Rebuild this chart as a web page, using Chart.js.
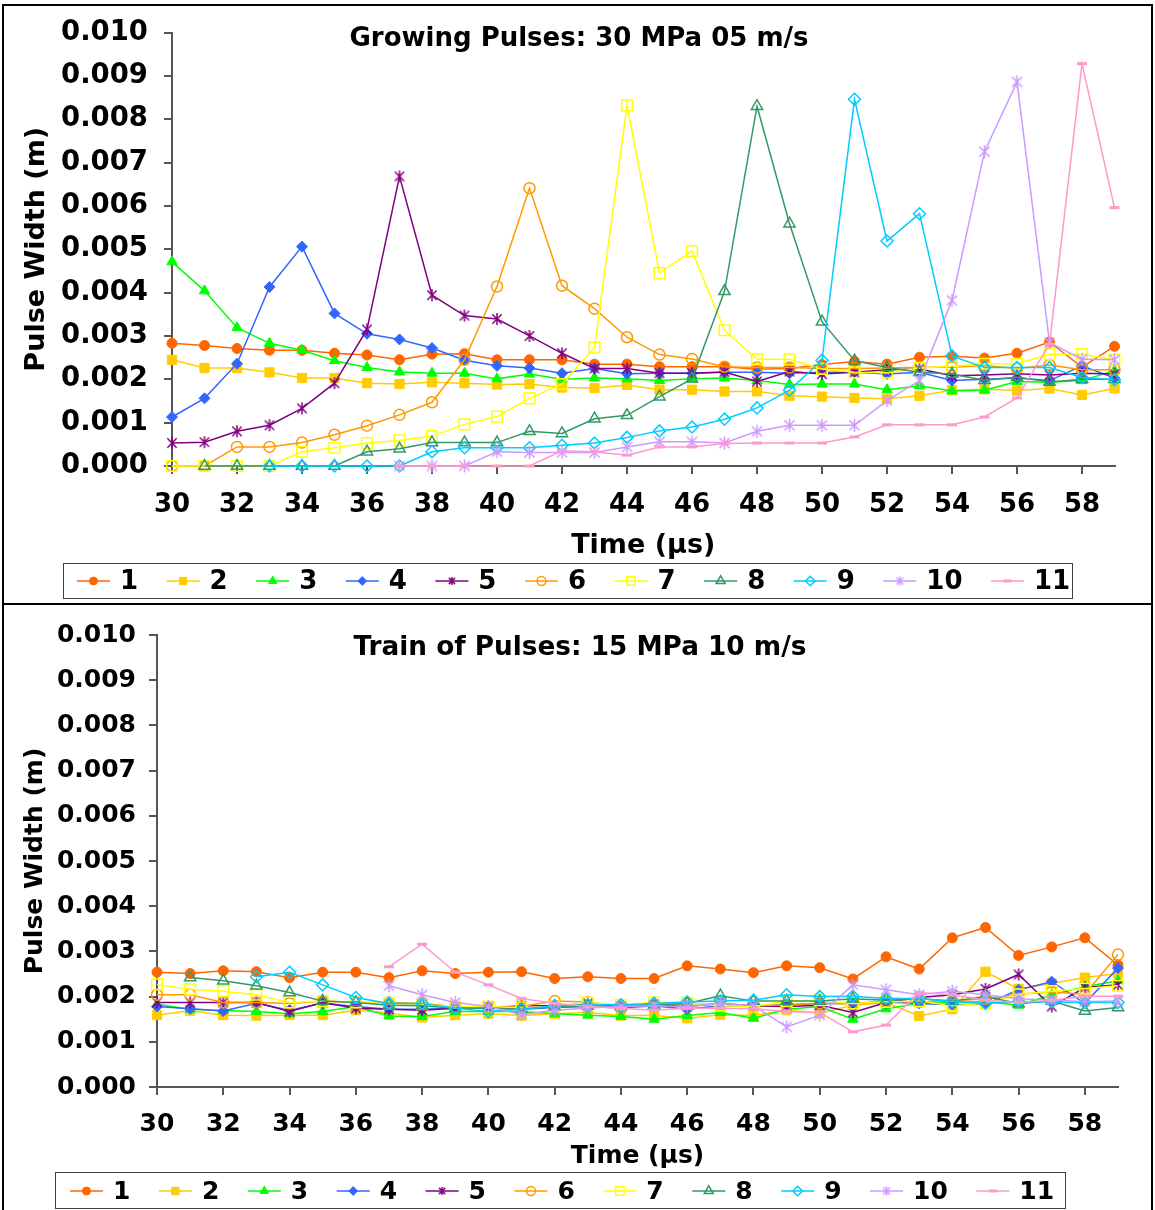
<!DOCTYPE html>
<html>
<head>
<meta charset="utf-8">
<script src="https://cdn.jsdelivr.net/npm/chart.js@4.4.1/dist/chart.umd.min.js"></script>
<style>
  html, body { margin: 0; padding: 0; background: #fff; }
  #page { position: relative; width: 1155px; height: 1210px; overflow: hidden; }
  .frame { position: absolute; border: 2px solid #000; box-sizing: border-box; }
  canvas { position: absolute; left: 0; }
</style>
</head>
<body>
<div id="page">
  <div class="frame" style="left:2px;top:4px;width:1151px;height:601px"></div>
  <div class="frame" style="left:2px;top:603px;width:1151px;height:620px"></div>
  <canvas id="growing" width="1155" height="605" style="top:0"></canvas>
  <canvas id="train" width="1155" height="605" style="top:605px"></canvas>
</div>
<script>
// Time axis (µs)
const times = [30, 31, 32, 33, 34, 35, 36, 37, 38, 39,
               40, 41, 42, 43, 44, 45, 46, 47, 48, 49,
               50, 51, 52, 53, 54, 55, 56, 57, 58, 59];
const xTickStep = 2;
const yTickStep = 0.001;
const yMax = 0.010;

// Pulse widths in millimetres, one value per time step (null = pulse not yet present)
// Growing Pulses: 30 MPa 05 m/s
const gp1  = [2.83, 2.78, 2.71, 2.67, 2.67, 2.60, 2.56, 2.45, 2.58, 2.59, 2.45, 2.45, 2.45, 2.35, 2.35, 2.29, 2.29, 2.29, 2.23, 2.25, 2.34, 2.41, 2.35, 2.51, 2.53, 2.49, 2.60, 2.86, 2.28, 2.76];
const gp2  = [2.45, 2.26, 2.26, 2.16, 2.03, 2.03, 1.91, 1.89, 1.93, 1.91, 1.88, 1.89, 1.81, 1.80, 1.87, 1.76, 1.76, 1.72, 1.72, 1.62, 1.60, 1.57, 1.55, 1.62, 1.75, 1.77, 1.74, 1.79, 1.64, 1.79];
const gp3  = [4.71, 4.04, 3.19, 2.83, 2.67, 2.43, 2.27, 2.17, 2.14, 2.14, 2.01, 2.12, 2.00, 2.03, 2.01, 1.97, 2.01, 2.03, 1.97, 1.88, 1.89, 1.89, 1.76, 1.85, 1.73, 1.75, 1.95, 1.93, 1.97, 2.20];
const gp4  = [1.13, 1.56, 2.36, 4.13, 5.06, 3.52, 3.05, 2.92, 2.72, 2.44, 2.31, 2.26, 2.14, 2.25, 2.13, 2.14, 2.14, 2.16, 2.16, 2.14, 2.16, 2.16, 2.12, 2.16, 1.97, 2.00, 2.03, 1.97, 2.31, 2.03];
const gp5  = [0.53, 0.55, 0.80, 0.94, 1.33, 1.91, 3.15, 6.68, 3.94, 3.47, 3.39, 3.00, 2.60, 2.25, 2.25, 2.14, 2.14, 2.17, 1.95, 2.18, 2.12, 2.16, 2.22, 2.24, 2.08, 2.10, 2.13, 2.10, 2.14, 2.12];
const gp6  = [0.00, 0.00, 0.44, 0.44, 0.54, 0.72, 0.93, 1.18, 1.47, 2.45, 4.14, 6.41, 4.16, 3.63, 2.97, 2.57, 2.47, 2.29, 2.27, 2.27, 2.25, 2.25, 2.26, 2.28, 2.28, 2.32, 2.25, 2.33, 2.22, 2.22];
const gp7  = [0.00, 0.00, 0.00, 0.00, 0.33, 0.42, 0.53, 0.59, 0.69, 0.96, 1.14, 1.56, 1.89, 2.73, 8.32, 4.45, 4.96, 3.13, 2.46, 2.46, 2.24, 2.16, 2.15, 2.26, 2.30, 2.36, 2.36, 2.58, 2.58, 2.45];
const gp8  = [null, 0.00, 0.00, 0.00, 0.00, 0.00, 0.33, 0.40, 0.54, 0.54, 0.54, 0.80, 0.75, 1.09, 1.17, 1.60, 2.01, 4.03, 8.30, 5.59, 3.33, 2.43, 2.27, 2.16, 2.12, 1.98, 2.05, 1.94, 2.00, 2.00];
const gp9  = [null, null, null, 0.00, 0.00, 0.00, 0.00, 0.00, 0.33, 0.42, 0.42, 0.42, 0.48, 0.53, 0.66, 0.81, 0.90, 1.08, 1.34, 1.75, 2.44, 8.46, 5.19, 5.82, 2.54, 2.27, 2.27, 2.27, 2.04, 1.99];
const gp10 = [null, null, null, null, null, null, null, 0.00, 0.00, 0.00, 0.33, 0.31, 0.31, 0.31, 0.44, 0.56, 0.56, 0.53, 0.80, 0.94, 0.94, 0.94, 1.51, 1.97, 3.82, 7.25, 8.86, 2.85, 2.46, 2.45];
const gp11 = [null, null, null, null, null, null, null, 0.00, 0.00, 0.00, 0.00, 0.00, 0.35, 0.33, 0.25, 0.44, 0.44, 0.52, 0.53, 0.53, 0.53, 0.67, 0.95, 0.95, 0.95, 1.13, 1.57, 2.81, 9.28, 5.96];

// Train of Pulses: 15 MPa 10 m/s
const tp1  = [2.54, 2.51, 2.57, 2.55, 2.42, 2.54, 2.54, 2.42, 2.57, 2.51, 2.54, 2.55, 2.40, 2.44, 2.40, 2.40, 2.68, 2.61, 2.53, 2.68, 2.64, 2.39, 2.88, 2.61, 3.30, 3.53, 2.91, 3.10, 3.30, 2.70];
const tp2  = [1.59, 1.69, 1.59, 1.58, 1.59, 1.59, 1.70, 1.64, 1.54, 1.59, 1.62, 1.58, 1.62, 1.65, 1.58, 1.58, 1.52, 1.60, 1.58, 1.70, 1.63, 1.81, 1.87, 1.57, 1.72, 2.55, 2.17, 2.29, 2.42, 2.51];
const tp3  = [1.83, 1.72, 1.69, 1.67, 1.62, 1.67, 1.78, 1.57, 1.56, 1.67, 1.67, 1.67, 1.62, 1.59, 1.56, 1.50, 1.58, 1.65, 1.52, 1.72, 1.78, 1.50, 1.73, 1.85, 1.87, 1.89, 1.81, 2.04, 2.22, 2.35];
const tp4  = [1.78, 1.73, 1.68, 1.85, 1.70, 1.85, 1.78, 1.72, 1.72, 1.74, 1.75, 1.72, 1.76, 1.78, 1.75, 1.80, 1.72, 1.80, 1.78, 1.82, 1.85, 1.85, 1.88, 1.85, 1.82, 1.83, 2.15, 2.33, 1.85, 2.63];
const tp5  = [1.87, 1.87, 1.87, 1.87, 1.67, 1.87, 1.74, 1.72, 1.70, 1.74, 1.75, 1.80, 1.80, 1.85, 1.78, 1.82, 1.78, 1.85, 1.80, 1.78, 1.81, 1.65, 1.87, 1.98, 2.04, 2.17, 2.49, 1.78, 2.20, 2.26];
const tp6  = [2.04, 2.04, 1.87, 1.87, 1.85, 1.90, 1.87, 1.87, 1.85, 1.78, 1.75, 1.78, 1.90, 1.88, 1.80, 1.82, 1.85, 1.82, 1.80, 1.82, 1.85, 1.85, 1.90, 1.88, 1.90, 1.95, 2.05, 2.10, 2.05, 2.93];
const tp7  = [2.27, 2.16, 2.12, 2.04, 1.87, 1.90, 1.87, 1.85, 1.83, 1.78, 1.78, 1.75, 1.78, 1.87, 1.82, 1.87, 1.87, 1.80, 1.78, 1.90, 1.92, 1.85, 1.88, 1.90, 1.80, 1.85, 2.05, 2.12, 2.18, 2.24];
const tp8  = [null, 2.42, 2.35, 2.24, 2.09, 1.90, 1.87, 1.81, 1.80, 1.74, 1.75, 1.72, 1.78, 1.80, 1.78, 1.82, 1.85, 2.02, 1.90, 1.90, 1.90, 1.95, 1.92, 1.95, 1.90, 2.00, 1.85, 1.90, 1.68, 1.76];
const tp9  = [null, null, null, 2.44, 2.54, 2.26, 1.98, 1.85, 1.85, 1.74, 1.67, 1.72, 1.80, 1.82, 1.82, 1.85, 1.88, 1.90, 1.92, 2.04, 2.00, 2.01, 1.96, 1.96, 1.89, 1.85, 1.89, 1.88, 1.87, 1.87];
const tp10 = [null, null, null, null, null, null, null, 2.24, 2.04, 1.87, 1.78, 1.60, 1.70, 1.75, 1.78, 1.80, 1.78, 1.85, 1.80, 1.33, 1.59, 2.26, 2.15, 2.04, 2.12, 2.04, 1.95, 1.92, 1.89, 1.90];
const tp11 = [null, null, null, null, null, null, null, 2.66, 3.16, 2.54, 2.26, 1.96, 1.85, 1.78, 1.74, 1.70, 1.74, 1.74, 1.73, 1.67, 1.65, 1.22, 1.37, 2.09, 2.04, 1.92, 1.87, 1.92, 2.01, 2.01];

const seriesLabels = ['1', '2', '3', '4', '5', '6', '7', '8', '9', '10', '11'];
const seriesColors = ['#FF6600', '#FFCC00', '#00FF00', '#3366FF', '#800080', '#FF9900',
                      '#FFFF00', '#339966', '#00CCFF', '#CC99FF', '#FF99CC'];
const markerShapes = ['circle', 'rect', 'triangle', 'rectRot', 'asterisk', 'circle',
                      'rect', 'triangle', 'rectRot', 'asterisk', 'line'];
const markerFilled = [true, true, true, true, false, false, false, false, false, false, false];
const markerRadii  = [5, 6.5, 6, 5.5, 12, 5.5, 7.5, 6.5, 6, 13, 5];

const growingSeries = [gp1, gp2, gp3, gp4, gp5, gp6, gp7, gp8, gp9, gp10, gp11];
const trainSeries   = [tp1, tp2, tp3, tp4, tp5, tp6, tp7, tp8, tp9, tp10, tp11];

const FONT = '"DejaVu Sans", Verdana, sans-serif';

// Six-spoke asterisk marker (X plus vertical bar)
function asteriskImage(color, size) {
  const c = document.createElement('canvas');
  c.width = size + 2; c.height = size + 2;
  const g = c.getContext('2d');
  const m = (size + 2) / 2, h = size / 2, d = h * 0.78;
  g.strokeStyle = color; g.lineWidth = 1.5;
  g.beginPath();
  g.moveTo(m, m - h); g.lineTo(m, m + h);
  g.moveTo(m - d, m - d); g.lineTo(m + d, m + d);
  g.moveTo(m + d, m - d); g.lineTo(m - d, m + d);
  g.stroke();
  return c;
}

function pointStyleFor(i) {
  return markerShapes[i] === 'asterisk' ? asteriskImage(seriesColors[i], markerRadii[i]) : markerShapes[i];
}

function pointsFor(vals) {
  const pts = [];
  vals.forEach((v, i) => { if (v !== null) pts.push({ x: times[i], y: v / 1000 }); });
  return pts;
}

function buildDatasets(seriesList) {
  return seriesList.map((vals, i) => {
    const shape = markerShapes[i];
    const filled = markerFilled[i];
    return {
      label: seriesLabels[i],
      data: pointsFor(vals),
      borderColor: seriesColors[i],
      borderWidth: 1.5,
      tension: 0,
      clip: false,
      order: seriesList.length - i,
      pointStyle: pointStyleFor(i),
      pointRadius: shape === 'asterisk' ? 6 : markerRadii[i],
      pointHoverRadius: shape === 'asterisk' ? 6 : markerRadii[i],
      pointBackgroundColor: filled ? seriesColors[i] : 'rgba(0,0,0,0)',
      pointBorderColor: seriesColors[i],
      pointBorderWidth: shape === 'line' ? 3 : (filled ? 1 : 1.5)
    };
  });
}

function drawMarker(ctx, i, x, y, scale) {
  const shape = markerShapes[i];
  const color = seriesColors[i];
  const r = markerRadii[i] * scale;
  ctx.save();
  if (shape === 'asterisk') {
    const img = asteriskImage(color, Math.round(r * 0.85));
    ctx.drawImage(img, x - img.width / 2, y - img.height / 2);
    ctx.restore();
    return;
  }
  ctx.strokeStyle = color;
  ctx.fillStyle = color;
  ctx.lineWidth = shape === 'line' ? 3 : (markerFilled[i] ? 1 : 1.5);
  ctx.beginPath();
  if (shape === 'circle') {
    ctx.arc(x, y, r, 0, Math.PI * 2);
  } else if (shape === 'rect') {
    const s = Math.SQRT1_2 * r;
    ctx.rect(x - s, y - s, 2 * s, 2 * s);
  } else if (shape === 'rectRot') {
    ctx.moveTo(x - r, y); ctx.lineTo(x, y - r); ctx.lineTo(x + r, y); ctx.lineTo(x, y + r); ctx.closePath();
  } else if (shape === 'triangle') {
    for (let k = 0; k < 3; k++) {
      const a = k * 2 * Math.PI / 3;
      const px = x + Math.sin(a) * r, py = y - Math.cos(a) * r;
      if (k === 0) ctx.moveTo(px, py); else ctx.lineTo(px, py);
    }
    ctx.closePath();
  } else if (shape === 'line') {
    ctx.moveTo(x - r, y); ctx.lineTo(x + r, y);
  }
  if (markerFilled[i]) ctx.fill();
  ctx.stroke();
  ctx.restore();
}

// Chart heading and boxed legend drawn onto each panel
const panelDecor = {
  id: 'panelDecor',
  afterDraw(chart, args, o) {
    const ctx = chart.ctx;
    ctx.save();
    ctx.fillStyle = '#000';
    ctx.font = `bold ${o.titleSize}px ${FONT}`;
    ctx.textAlign = 'center';
    ctx.textBaseline = 'middle';
    ctx.fillText(o.title, o.titleX, o.titleY);

    const b = o.legendBox;
    ctx.strokeStyle = '#404040';
    ctx.lineWidth = 1;
    ctx.strokeRect(b.x + 0.5, b.y + 0.5, b.w, b.h);

    ctx.font = `bold ${o.legendSize}px ${FONT}`;
    ctx.textAlign = 'left';
    let x = o.legendStart;
    const y = o.legendY;
    seriesLabels.forEach((lab, i) => {
      ctx.strokeStyle = seriesColors[i];
      ctx.lineWidth = 1.5;
      ctx.beginPath();
      ctx.moveTo(x, y); ctx.lineTo(x + 33, y);
      ctx.stroke();
      drawMarker(ctx, i, x + 16.5, y, 0.8);
      ctx.fillStyle = '#000';
      ctx.fillText(lab, x + 43, y + 1);
      x += 43 + ctx.measureText(lab).width + 28.5;
    });
    ctx.restore();
  }
};

function makeChart(canvasId, seriesList, cfg) {
  const axisColor = '#555';
  return new Chart(document.getElementById(canvasId), {
    type: 'line',
    data: { datasets: buildDatasets(seriesList) },
    plugins: [panelDecor],
    options: {
      responsive: false,
      animation: false,
      layout: { padding: { top: cfg.top, right: cfg.right, bottom: 0, left: 0 } },
      plugins: {
        legend: { display: false },
        tooltip: { enabled: false },
        title: { display: false },
        panelDecor: cfg.decor
      },
      scales: {
        x: {
          type: 'linear',
          min: times[0],
          max: times[times.length - 1],
          afterFit(scale) { scale.height = cfg.xHeight; },
          border: { display: true, color: axisColor, width: 2 },
          grid: { drawOnChartArea: false, drawTicks: true, tickLength: 8, color: axisColor, lineWidth: 2 },
          ticks: {
            stepSize: xTickStep,
            includeBounds: false,
            maxRotation: 0,
            autoSkip: false,
            padding: cfg.xPad,
            color: '#000',
            font: { family: FONT, size: cfg.xTickSize, weight: 'bold' }
          },
          title: {
            display: true,
            text: 'Time (\u03BCs)',
            color: '#000',
            font: { family: FONT, size: cfg.axisTitleSize, weight: 'bold' },
            padding: { top: 0, bottom: cfg.xTitlePad }
          }
        },
        y: {
          min: 0,
          max: yMax,
          afterFit(scale) { scale.width = cfg.yWidth; },
          border: { display: true, color: axisColor, width: 2 },
          grid: { drawOnChartArea: false, drawTicks: true, tickLength: 8, color: axisColor, lineWidth: 2 },
          ticks: {
            stepSize: yTickStep,
            padding: cfg.yPad,
            color: '#000',
            font: { family: FONT, size: cfg.yTickSize, weight: 'bold' },
            callback: (v) => Number(v).toFixed(3)
          },
          title: {
            display: true,
            text: 'Pulse Width (m)',
            color: '#000',
            font: { family: FONT, size: cfg.axisTitleSize, weight: 'bold' },
            padding: { top: cfg.yTitlePad, bottom: 0 }
          }
        }
      }
    }
  });
}

makeChart('growing', growingSeries, {
  top: 29, right: 40.5, xHeight: 139, yWidth: 172,
  xPad: 16, yPad: 16, xTickSize: 26, yTickSize: 27.5, axisTitleSize: 27,
  xTitlePad: 43, yTitlePad: 21,
  decor: {
    title: 'Growing Pulses: 30 MPa 05 m/s', titleSize: 26, titleX: 579, titleY: 39,
    legendBox: { x: 63, y: 563, w: 1009, h: 35 },
    legendStart: 77, legendY: 581, legendSize: 26
  }
});

makeChart('train', trainSeries, {
  top: 30, right: 37, xHeight: 123, yWidth: 157,
  xPad: 14, yPad: 13, xTickSize: 25, yTickSize: 25, axisTitleSize: 25,
  xTitlePad: 39, yTitlePad: 20,
  decor: {
    title: 'Train of Pulses: 15 MPa 10 m/s', titleSize: 26.3, titleX: 580, titleY: 43,
    legendBox: { x: 55, y: 567, w: 1010, h: 36 },
    legendStart: 70, legendY: 586, legendSize: 25
  }
});
</script>
</body>
</html>
